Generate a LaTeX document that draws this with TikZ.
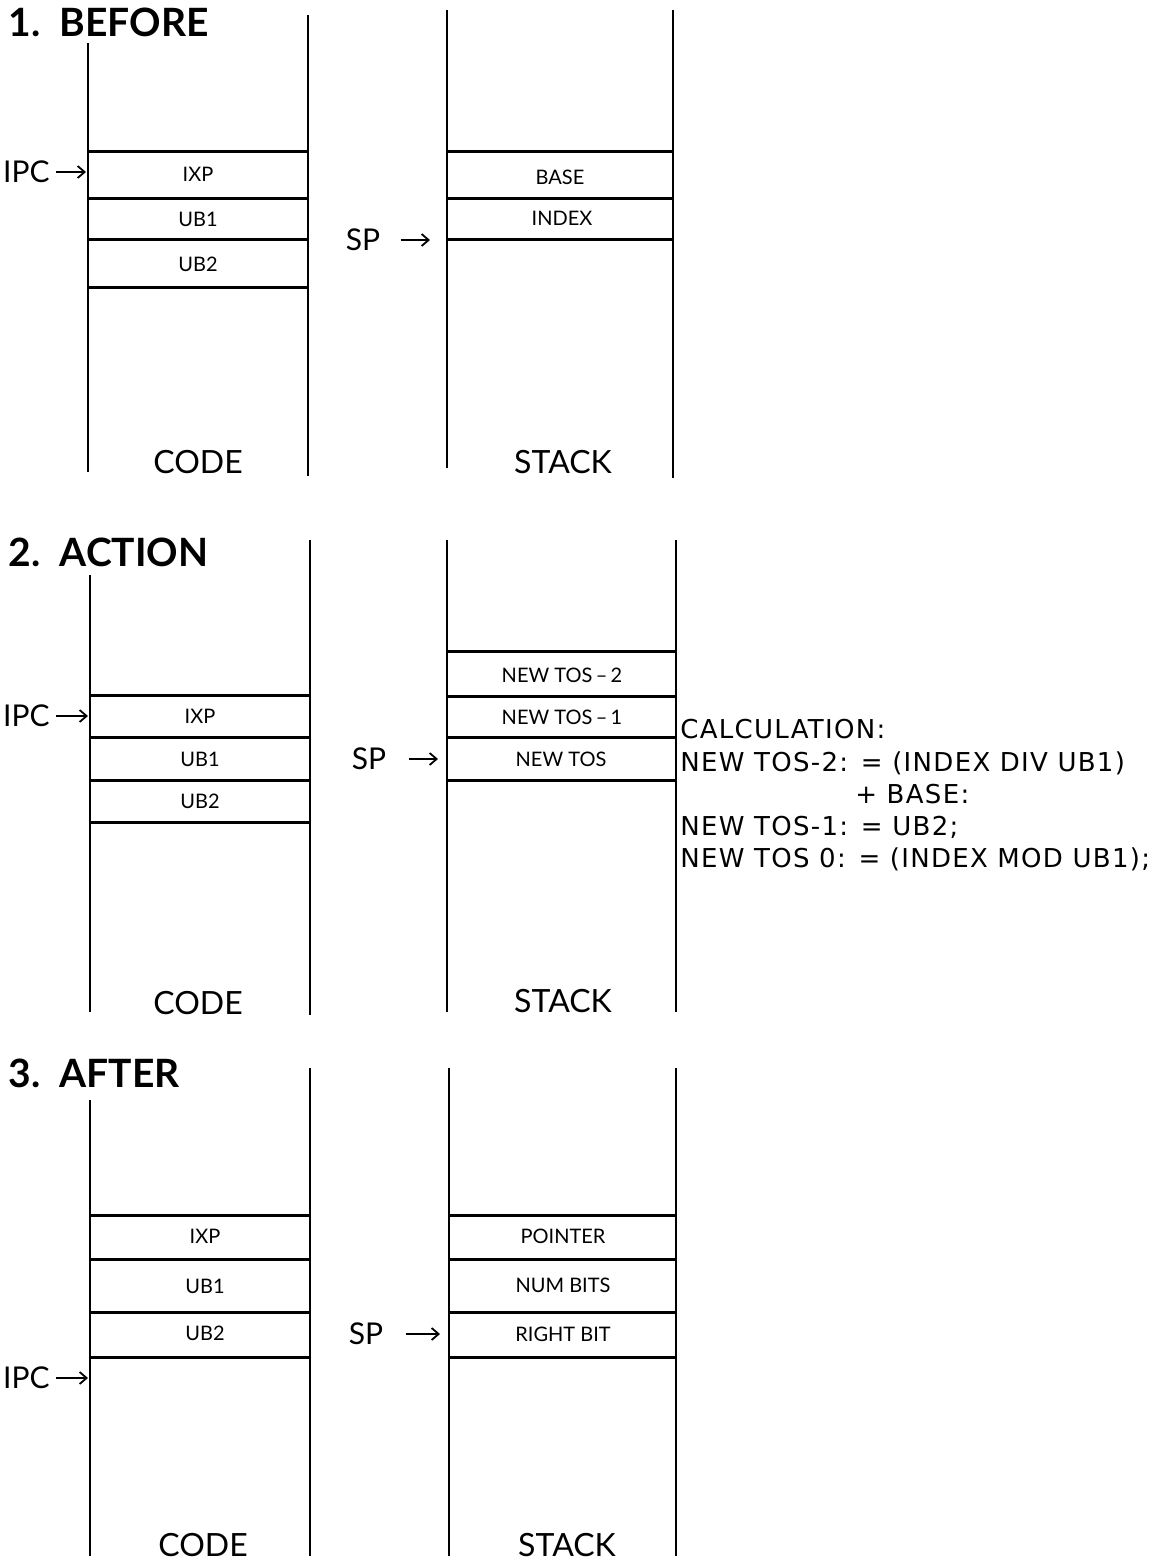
\documentclass[tikz,border=0pt]{standalone}
\usepackage{fontspec}
\setmainfont{Lato}
\newfontfamily\calcfont[LetterSpace=5]{DejaVu Sans}
\usepackage{tikz}
\usetikzlibrary{positioning,arrows.meta}
\tikzset{
  colwall/.style={line width=1.1pt},
  slotrule/.style={line width=1.5pt},
  slottext/.style={font=\fontsize{10}{12}\selectfont, inner sep=0pt},
  colname/.style={font=\fontsize{16}{19}\selectfont, inner sep=0pt},
  phasetitle/.style={font=\fontsize{19.5}{23}\selectfont\bfseries, anchor=west, inner sep=0pt},
  regname/.style={font=\fontsize{15}{18}\selectfont, inner sep=0pt},
  ptrarr/.style={-{Straight Barb[length=3.5pt,width=6pt]}, line width=0.9pt},
  calcline/.style={font=\calcfont\fontsize{13}{15}\selectfont, anchor=base west, inner sep=0pt}
}
\begin{document}
\begin{tikzpicture}[x=0.5pt, y=-0.5pt]
  \useasboundingbox (0,0) rectangle (1167,1564);

  % 1. before
  \node[phasetitle] (titleA) at (8,22) {1.\hspace{0.5em}BEFORE};
  \draw[colwall] (88,43) -- (88,472);
  \draw[colwall] (308,15) -- (308,476);
  \draw[colwall] (447,10) -- (447,468);
  \draw[colwall] (673,10) -- (673,478);
  \foreach \y in {151,198,239,287} \draw[slotrule] (88,\y) -- (308,\y);
  \foreach \y in {151,198,239} \draw[slotrule] (447,\y) -- (673,\y);
  \node[slottext] (ixpA) at (198,174) {IXP};
  \node[slottext] (ubaA) at (198,219) {UB1};
  \node[slottext] (ubbA) at (198,264) {UB2};
  \node[slottext] (baseA) at (560,177) {BASE};
  \node[slottext] (indexA) at (562,218) {INDEX};
  \node[regname, anchor=east] (ipcA) at (50,172) {IPC};
  \coordinate (ipcAtip) at (86,172);
  \draw[ptrarr, shorten <=3pt] (ipcA.east) -- (ipcAtip);
  \node[regname] (spA) at (363,240) {SP};
  \coordinate (spAtip) at (430,240);
  \draw[ptrarr, shorten <=10pt] (spA.east) -- (spAtip);
  \node[colname] (codeA) at (198,462) {CODE};
  \node[colname] (stackA) at (563,462) {STACK};

  % 2. action
  \node[phasetitle] (titleB) at (8,552) {2.\hspace{0.5em}ACTION};
  \draw[colwall] (90,575) -- (90,1012);
  \draw[colwall] (310,540) -- (310,1015);
  \draw[colwall] (447,540) -- (447,1012);
  \draw[colwall] (676,540) -- (676,1012);
  \foreach \y in {695,737,780,822} \draw[slotrule] (90,\y) -- (310,\y);
  \foreach \y in {651,696,737,780} \draw[slotrule] (447,\y) -- (676,\y);
  \node[slottext] (ixpB) at (200,716) {IXP};
  \node[slottext] (ubaB) at (200,759) {UB1};
  \node[slottext] (ubbB) at (200,801) {UB2};
  \node[slottext] (tosbB) at (562,675) {NEW TOS\,–\,2};
  \node[slottext] (tosaB) at (562,717) {NEW TOS\,–\,1};
  \node[slottext] (tosB) at (561,759) {NEW TOS};
  \node[regname, anchor=east] (ipcB) at (50,716) {IPC};
  \coordinate (ipcBtip) at (88,716);
  \draw[ptrarr, shorten <=3pt] (ipcB.east) -- (ipcBtip);
  \node[regname] (spB) at (369,759) {SP};
  \coordinate (spBtip) at (438,759);
  \draw[ptrarr, shorten <=11pt] (spB.east) -- (spBtip);
  \node[colname] (codeB) at (198,1003) {CODE};
  \node[colname] (stackB) at (563,1001) {STACK};
  \node[calcline] (calcA) at (680,738) {CALCULATION:};
  \node[calcline] (calcB) at (680,771) {NEW TOS-2: = (INDEX DIV UB1)};
  \node[calcline] (calcC) at (855,803) {+ BASE:};
  \node[calcline] (calcD) at (680,835) {NEW TOS-1: = UB2;};
  \node[calcline] (calcE) at (680,867) {NEW TOS 0: = (INDEX MOD UB1);};

  % 3. after
  \node[phasetitle] (titleC) at (8,1073) {3.\hspace{0.5em}AFTER};
  \draw[colwall] (90,1100) -- (90,1556);
  \draw[colwall] (310,1068) -- (310,1556);
  \draw[colwall] (449,1068) -- (449,1556);
  \draw[colwall] (676,1068) -- (676,1556);
  \foreach \y in {1215,1259,1312,1357} \draw[slotrule] (90,\y) -- (310,\y);
  \foreach \y in {1215,1259,1312,1357} \draw[slotrule] (449,\y) -- (676,\y);
  \node[slottext] (ixpC) at (205,1236) {IXP};
  \node[slottext] (ubaC) at (205,1286) {UB1};
  \node[slottext] (ubbC) at (205,1333) {UB2};
  \node[slottext] (ptrC) at (563,1236) {POINTER};
  \node[slottext] (numC) at (563,1285) {NUM BITS};
  \node[slottext] (rbitC) at (563,1334) {RIGHT BIT};
  \node[regname, anchor=east] (ipcC) at (50,1378) {IPC};
  \coordinate (ipcCtip) at (88,1378);
  \draw[ptrarr, shorten <=3pt] (ipcC.east) -- (ipcCtip);
  \node[regname] (spC) at (366,1334) {SP};
  \coordinate (spCtip) at (440,1334);
  \draw[ptrarr, shorten <=11pt] (spC.east) -- (spCtip);
  \node[colname] (codeC) at (203,1545) {CODE};
  \node[colname] (stackC) at (567,1545) {STACK};
\end{tikzpicture}
\end{document}
